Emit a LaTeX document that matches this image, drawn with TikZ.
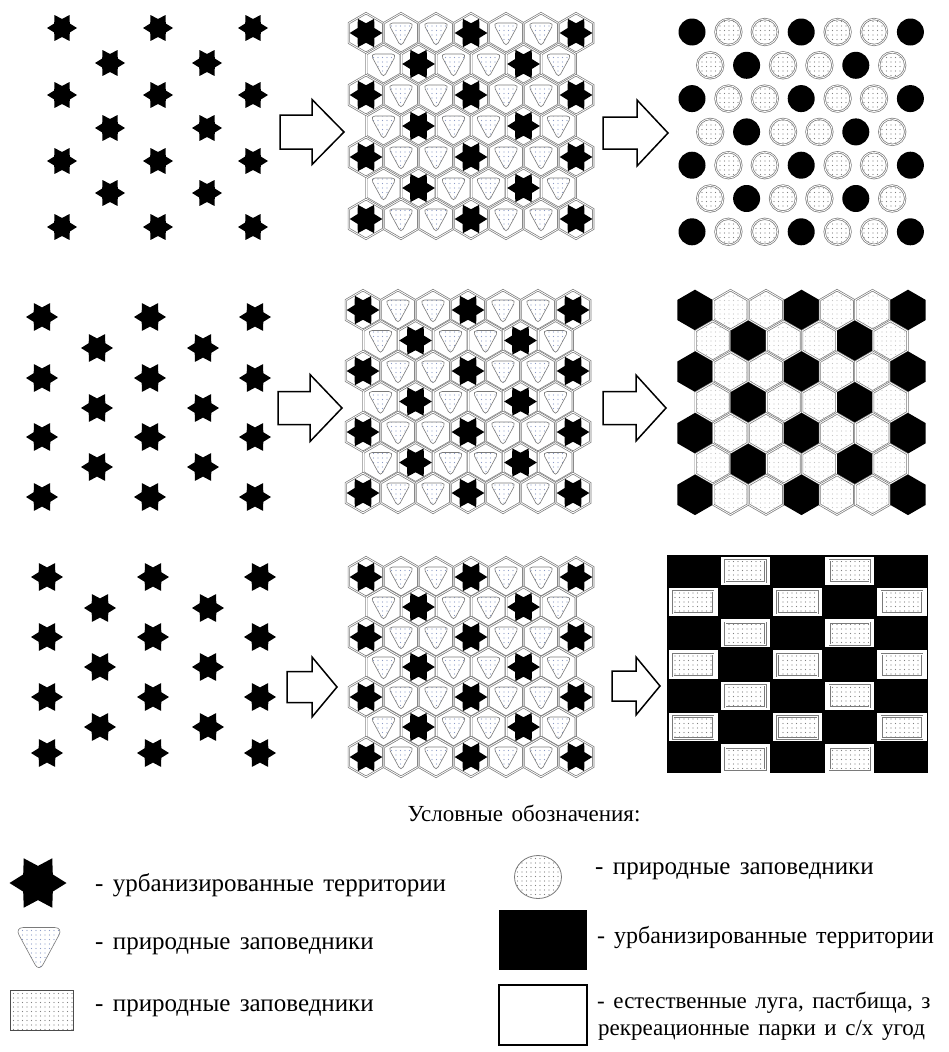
\documentclass[tikz,border=0pt]{standalone}
\usepackage{fontspec}
\setmainfont{Liberation Serif}[WordSpace=1.5]
\usetikzlibrary{patterns}
\definecolor{RimGray}{HTML}{7A7A7A}
\definecolor{DotGray}{HTML}{808080}
\definecolor{TriBlue}{HTML}{8C9CC8}

\pgfdeclarepatternformonly{sparse dots}{\pgfqpoint{-1pt}{-1pt}}{\pgfqpoint{1pt}{1pt}}{\pgfqpoint{4.5pt}{4.5pt}}{%
  \pgfpathcircle{\pgfqpoint{0pt}{0pt}}{0.55pt}\pgfusepath{fill}}

\tikzset{
  rim/.style={draw=RimGray, line width=0.7pt, double=white, double distance=0.8pt},
  dotfill/.style={pattern=sparse dots, pattern color=DotGray},
  faintdots/.style={pattern=sparse dots, pattern color=gray!45},
  blockarrow/.style={draw=black, line width=1.5pt, fill=white, line join=miter},
  legendtext/.style={anchor=west, inner sep=0pt, font=\fontsize{25}{29}\selectfont},
}

% six-pointed star: x, y, outer radius
\newcommand{\urbstar}[3]{%
  \fill[black, shift={(#1,#2)}] (0:#3) \foreach \a in {30,90,...,330}{ -- ({\a}:{0.6*#3}) -- ({\a+30}:{#3})} -- cycle;}
% hexagon with a point on top: x, y, radius, style
\newcommand{\hexcell}[4]{%
  \path[#4, shift={(#1,#2)}] (30:#3) -- (90:#3) -- (150:#3) -- (210:#3) -- (270:#3) -- (330:#3) -- cycle;}
% rounded triangle (nature reserve): x, y, scale
\newcommand{\reserve}[3]{%
  \path[draw=RimGray, line width=0.6pt, pattern=sparse dots, pattern color=TriBlue,
        rounded corners={#3*4.5pt}, shift={(#1,#2)}, scale=#3]
    (-13,-10) -- (13,-10) -- (0,14) -- cycle;}
% block arrow: left, head start, tip, mid y, shaft half, head half
\newcommand{\bigarrow}[6]{%
  \draw[blockarrow] (#1,#4-#5) -- (#2,#4-#5) -- (#2,#4-#6) -- (#3,#4) -- (#2,#4+#6) -- (#2,#4+#5) -- (#1,#4+#5) -- cycle;}

\begin{document}
\begin{tikzpicture}[x=1pt, y=-1pt]
  \fill[white] (0,0) rectangle (948,1052);
  \useasboundingbox (0,0) rectangle (948,1052);

  % left column: urban stars
  \foreach \x in {62,158,253} \foreach \y in {28,95,161,227} {\urbstar{\x}{\y}{15}}
  \foreach \x in {110,207} \foreach \y in {63,128,193} {\urbstar{\x}{\y}{15}}
  \foreach \x in {42,150,255} \foreach \y in {317,378,437,497} {\urbstar{\x}{\y}{16}}
  \foreach \x in {97,203} \foreach \y in {348,408,467} {\urbstar{\x}{\y}{16}}
  \foreach \x in {47,153,260} \foreach \y in {577,637,697,753} {\urbstar{\x}{\y}{16}}
  \foreach \x in {100,208} \foreach \y in {608,667,727} {\urbstar{\x}{\y}{16}}

  % arrows
  \bigarrow{280}{312}{344}{132}{17}{32.5}
  \bigarrow{603}{637}{668}{133}{16}{33}
  \bigarrow{278}{310}{342}{408}{16.5}{33.5}
  \bigarrow{603}{636}{666}{408}{16.5}{33}
  \bigarrow{287}{312}{337}{687}{15.5}{30}
  \bigarrow{612}{636}{660}{686}{15}{29}

  % middle column: hex cells with stars and reserves
  \foreach \gy/\gx/\dy in {33/366/31, 310/363/30.5, 577/366/30}{
    \foreach \row in {0,...,6}{
      \pgfmathtruncatemacro\odd{mod(\row,2)}
      \pgfmathtruncatemacro\last{6-\odd}
      \foreach \col in {0,...,\last}{
        \pgfmathsetmacro\cx{\gx+35*\col+17.5*\odd}
        \pgfmathsetmacro\cy{\gy+\dy*\row}
        \pgfmathtruncatemacro\kind{mod(\col+2*\odd,3)}
        \hexcell{\cx}{\cy}{19.8}{rim}
        \ifnum\kind=0 \urbstar{\cx}{\cy}{16.3}\else\reserve{\cx}{\cy}{1}\fi
      }
    }
  }

  % right, top: circles
  \foreach \row in {0,...,6}{
    \pgfmathtruncatemacro\odd{mod(\row,2)}
    \pgfmathtruncatemacro\last{6-\odd}
    \foreach \col in {0,...,\last}{
      \pgfmathsetmacro\cx{692+36.4*\col+18.2*\odd}
      \pgfmathsetmacro\cy{32+33.3*\row}
      \pgfmathtruncatemacro\kind{mod(\col+2*\odd,3)}
      \ifnum\kind=0 \fill[black] (\cx,\cy) circle (13.5);\else\path[rim, dotfill] (\cx,\cy) circle (13);\fi
    }
  }

  % right, middle: hexagons
  \foreach \row in {0,...,6}{
    \pgfmathtruncatemacro\odd{mod(\row,2)}
    \pgfmathtruncatemacro\last{6-\odd}
    \foreach \col in {0,...,\last}{
      \pgfmathsetmacro\cx{695+35.5*\col+17.75*\odd}
      \pgfmathsetmacro\cy{310+30.8*\row}
      \pgfmathtruncatemacro\kind{mod(\col+2*\odd,3)}
      \ifnum\kind=0 \hexcell{\cx}{\cy}{20.3}{fill=black}\else\hexcell{\cx}{\cy}{19.8}{rim, faintdots}\fi
    }
  }

  % right, bottom: checkerboard
  \begin{scope}
    \clip (667,555) rectangle (928,773);
    \fill[black] (667,555) rectangle (928,773);
    \foreach \row in {0,...,6} \foreach \col in {0,...,4}{
      \pgfmathtruncatemacro\kind{mod(\row+\col,2)}
      \ifnum\kind=1
        \pgfmathsetmacro\cx{667+52.2*\col}
        \pgfmathsetmacro\cy{555+31.3*\row}
        \fill[white] (\cx+1.5,\cy+1.5) rectangle (\cx+50.7,\cy+29.8);
        \path[rim, dotfill] (\cx+6,\cy+5) rectangle (\cx+46.2,\cy+27);
      \fi
    }
  \end{scope}

  % legend
  \node[font=\fontsize{23}{27}\selectfont] (legtitle) at (524,813) {Условные обозначения:};
  \urbstar{38}{883}{28.5}
  \node[legendtext] (legurban) at (95,885) {- урбанизированные территории};
  \reserve{39}{946}{1.85}
  \node[legendtext] (legtri) at (95,946) {- природные заповедники};
  \path[draw=black!70, line width=0.6pt, dotfill] (10,990) rectangle (73,1030);
  \node[legendtext] (legrect) at (95,1008) {- природные заповедники};
  \path[draw=RimGray, line width=0.8pt, dotfill] (538,877) ellipse (23.5 and 21.5);
  \node[legendtext] (legcircle) at (595,871) {- природные заповедники};
  \fill[black] (499,910) rectangle (587,970);
  \node[legendtext, font=\fontsize{24}{28}\selectfont] (legblack) at (597,937) {- урбанизированные территории};
  \draw[black, line width=2pt] (499,985) rectangle (587,1045);
  \node[legendtext, font=\fontsize{23}{27}\selectfont] (legwhite) at (597,1003) {- естественные луга, пастбища, з};
  \node[legendtext, font=\fontsize{23}{27}\selectfont] (legwhite2) at (598,1030) {рекреационные парки и с/х угод};
\end{tikzpicture}
\end{document}
